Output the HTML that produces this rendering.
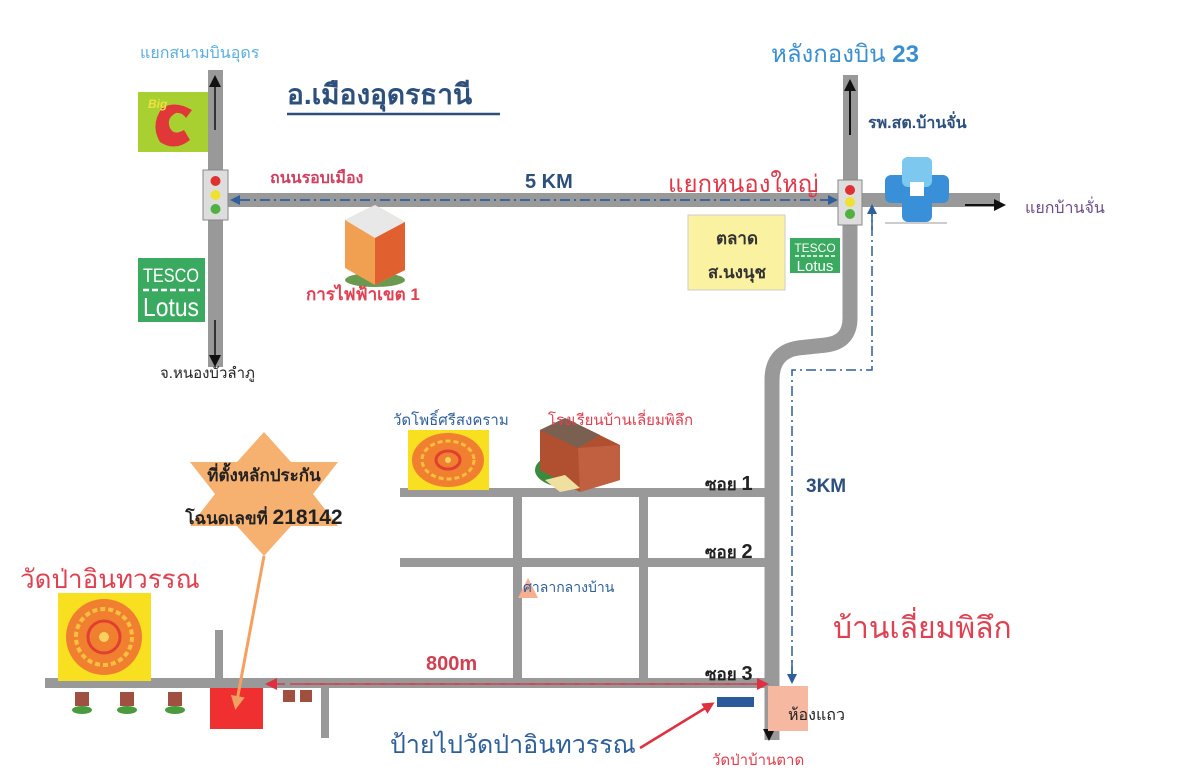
<!DOCTYPE html>
<html><head><meta charset="utf-8"><style>
body{margin:0;background:#fff}
svg{display:block}
text{font-family:"Liberation Sans","Noto Sans CJK SC",sans-serif}
</style></head><body>
<svg width="1200" height="771" viewBox="0 0 1200 771" xmlns="http://www.w3.org/2000/svg">
<defs>
<marker id="ab" markerUnits="userSpaceOnUse" markerWidth="12" markerHeight="12" refX="9" refY="6" orient="auto"><path d="M0,0 L12,6 L0,12 z" fill="#111"/></marker>
<marker id="abl" markerUnits="userSpaceOnUse" markerWidth="10" markerHeight="10" refX="8" refY="5" orient="auto"><path d="M0,0 L10,5 L0,10 z" fill="#2f5f9a"/></marker>
<marker id="ar" markerUnits="userSpaceOnUse" markerWidth="12" markerHeight="12" refX="9" refY="6" orient="auto"><path d="M0,0 L12,6 L0,12 z" fill="#e03040"/></marker>
<marker id="ao" markerUnits="userSpaceOnUse" markerWidth="14" markerHeight="14" refX="10" refY="7" orient="auto"><path d="M0,0 L14,7 L0,14 z" fill="#f0a060"/></marker>
</defs>

<g fill="#999">
<rect x="208" y="70" width="15" height="297"/>
<rect x="228" y="193" width="772" height="14"/>
<rect x="843" y="75" width="15" height="150"/>
<rect x="400" y="488" width="373" height="9"/>
<rect x="400" y="558" width="373" height="9"/>
<rect x="513" y="488" width="9" height="190"/>
<rect x="639" y="488" width="9" height="190"/>
<rect x="45" y="678" width="728" height="10"/>
<rect x="215" y="630" width="8" height="50"/>
<rect x="321" y="683" width="8" height="55"/>
</g>
<path d="M850,220 V318 Q850,342 826,345 L798,348 Q772,352 772,380 V740" fill="none" stroke="#999" stroke-width="15"/>

<line x1="215" y1="130" x2="215" y2="78" stroke="#111" stroke-width="1.5" marker-end="url(#ab)"/>
<line x1="215" y1="320" x2="215" y2="364" stroke="#111" stroke-width="1.5" marker-end="url(#ab)"/>
<line x1="850" y1="135" x2="850" y2="82" stroke="#111" stroke-width="2" marker-end="url(#ab)"/>
<line x1="965" y1="205" x2="1003" y2="205" stroke="#111" stroke-width="2" marker-end="url(#ab)"/>
<line x1="769" y1="705" x2="769" y2="738" stroke="#111" stroke-width="2" marker-end="url(#ab)"/>

<line x1="830" y1="200" x2="232" y2="200" stroke="#2f5f9a" stroke-width="1.5" stroke-dasharray="10,4,2,4" marker-end="url(#abl)"/>
<line x1="240" y1="200" x2="836" y2="200" stroke="#2f5f9a" stroke-width="1.5" stroke-dasharray="10,4,2,4" marker-end="url(#abl)"/>
<polyline points="792,676 792,370 872,370 872,212" fill="none" stroke="#2f5f9a" stroke-width="1.5" stroke-dasharray="10,4,2,4"/>
<line x1="872" y1="230" x2="872" y2="206" stroke="#2f5f9a" stroke-width="1.5" marker-end="url(#abl)"/>
<line x1="792" y1="660" x2="792" y2="682" stroke="#2f5f9a" stroke-width="1.5" marker-end="url(#abl)"/>
<line x1="765" y1="684" x2="268" y2="684" stroke="#d04050" stroke-width="1.5" stroke-dasharray="10,5" marker-end="url(#ar)"/>
<line x1="300" y1="684" x2="766" y2="684" stroke="#d04050" stroke-width="1.5" stroke-dasharray="10,5" marker-end="url(#ar)"/>

<g><rect x="203" y="170" width="25" height="50" fill="#ddd" stroke="#888"/>
<circle cx="215.5" cy="181" r="5" fill="#e03030"/><circle cx="215.5" cy="195" r="5" fill="#f0e030"/><circle cx="215.5" cy="209" r="5" fill="#50b040"/></g>
<g><rect x="838" y="180" width="24" height="45" fill="#ddd" stroke="#888"/>
<circle cx="850" cy="190" r="5" fill="#e03030"/><circle cx="850" cy="202" r="5" fill="#f0e030"/><circle cx="850" cy="214" r="5" fill="#50b040"/></g>

<rect x="138" y="92" width="70" height="60" fill="#a8d030"/>
<path d="M192,110 Q175,100 162,108 Q150,125 160,142 Q175,152 190,140 L184,130 Q174,136 170,128 Q166,118 176,113 Q182,112 186,118 z" fill="#e03838"/>
<text x="148" y="108" font-size="12" font-weight="bold" font-style="italic" fill="#f0e040">Big</text>
<rect x="138" y="258" width="67" height="64" fill="#3aaa60"/>
<text x="171" y="282" font-size="19" fill="#fff" text-anchor="middle" font-family="Liberation Serif" textLength="56" lengthAdjust="spacingAndGlyphs">TESCO</text>
<line x1="143" y1="290" x2="200" y2="290" stroke="#fff" stroke-width="2.5" stroke-dasharray="6,3"/>
<text x="171" y="316" font-size="26" fill="#fff" text-anchor="middle" font-family="Liberation Serif" textLength="56" lengthAdjust="spacingAndGlyphs">Lotus</text>
<rect x="790" y="238" width="50" height="35" fill="#3aaa60"/>
<text x="815" y="252" font-size="12" fill="#fff" text-anchor="middle" font-family="Liberation Serif">TESCO</text>
<line x1="795" y1="256" x2="835" y2="256" stroke="#fff" stroke-width="1.5" stroke-dasharray="4,2"/>
<text x="815" y="271" font-size="15" fill="#fff" text-anchor="middle" font-family="Liberation Serif">Lotus</text>
<rect x="688" y="215" width="97" height="75" fill="#faf2a0" stroke="#ccc"/>
<text x="737" y="244" font-size="17" font-weight="bold" fill="#333" text-anchor="middle">ตลาด</text>
<text x="737" y="278" font-size="17" font-weight="bold" fill="#333" text-anchor="middle">ส.นงนุช</text>
<rect x="902" y="157" width="30" height="65" rx="6" fill="#3a90d8"/>
<rect x="885" y="175" width="64" height="28" rx="6" fill="#3a90d8"/>
<rect x="902" y="157" width="30" height="30" rx="6" fill="#7cc8ee"/>
<rect x="910" y="182" width="14" height="14" fill="#fff"/>
<line x1="885" y1="223" x2="947" y2="223" stroke="#ccc" stroke-width="2"/>

<g>
<ellipse cx="375" cy="280" rx="30" ry="7" fill="#6a9a50"/>
<polygon points="345,220 375,205 405,222 405,270 375,285 345,268" fill="#f0a050"/>
<polygon points="345,220 375,205 405,222 375,238" fill="#e8e8e8"/>
<polygon points="375,238 405,222 405,270 375,285" fill="#e06030"/>
</g>

<g><rect x="58" y="593" width="93" height="88" fill="#f8e020"/>
<circle cx="104" cy="637" r="38" fill="#f08030"/><circle cx="104" cy="637" r="28" fill="none" stroke="#f8c040" stroke-width="4" stroke-dasharray="5,3"/><circle cx="104" cy="637" r="16" fill="none" stroke="#e04030" stroke-width="3"/><circle cx="104" cy="637" r="5" fill="#f8d060"/></g>
<g><rect x="408" y="430" width="81" height="60" fill="#f8e020"/>
<ellipse cx="448" cy="460" rx="36" ry="27" fill="#f08030"/><ellipse cx="448" cy="460" rx="26" ry="19" fill="none" stroke="#f8c040" stroke-width="3" stroke-dasharray="5,3"/><ellipse cx="448" cy="460" rx="12" ry="9" fill="none" stroke="#e04030" stroke-width="3"/><circle cx="448" cy="460" r="3" fill="#f8d060"/></g>

<g>
<ellipse cx="570" cy="470" rx="35" ry="18" fill="#3a8a40"/>
<polygon points="540,430 565,418 620,445 620,480 580,492 540,470" fill="#b05030"/>
<polygon points="540,430 565,418 600,435 578,448" fill="#7a6050"/>
<polygon points="578,448 620,445 620,480 580,492" fill="#c06040"/>
<polygon points="545,480 565,475 580,488 560,492" fill="#f0e0a0"/>
</g>

<polygon points="528,578 518,598 538,598" fill="#f4b090"/>

<g fill="#a05040">
<rect x="75" y="692" width="14" height="14"/><ellipse cx="82" cy="710" rx="10" ry="4" fill="#4a9a40"/>
<rect x="120" y="692" width="14" height="14"/><ellipse cx="127" cy="710" rx="10" ry="4" fill="#4a9a40"/>
<rect x="168" y="692" width="14" height="14"/><ellipse cx="175" cy="710" rx="10" ry="4" fill="#4a9a40"/>
<rect x="283" y="690" width="12" height="12"/><rect x="300" y="690" width="12" height="12"/>
</g>

<rect x="210" y="688" width="53" height="41" fill="#f03030"/>

<polygon points="264,432 291,462 338,462 313,494 338,526 291,526 264,556 237,526 190,526 215,494 190,462 237,462" fill="#f6b070"/>
<line x1="264" y1="556" x2="236" y2="706" stroke="#f6a060" stroke-width="3" marker-end="url(#ao)"/>
<text x="264" y="481" font-size="17" font-weight="bold" fill="#222" text-anchor="middle">ที่ตั้งหลักประกัน</text>
<text x="264" y="524" font-size="17" font-weight="bold" fill="#222" text-anchor="middle">โฉนดเลขที่ <tspan font-size="21">218142</tspan></text>

<rect x="768" y="686" width="40" height="45" fill="#f6b8a0"/>
<rect x="717" y="697" width="37" height="10" fill="#2a5a9a"/>
<line x1="640" y1="748" x2="712" y2="704" stroke="#e03040" stroke-width="2.5" marker-end="url(#ar)"/>

<text x="140" y="58" font-size="16" fill="#5aaee0">แยกสนามบินอุดร</text>
<text x="287" y="104" font-size="28" fill="#2d4f7c" font-weight="bold">อ.เมืองอุดรธานี</text>
<line x1="287" y1="114" x2="500" y2="114" stroke="#2d4f7c" stroke-width="2.5"/>
<text x="771" y="62" font-size="24" fill="#3a8fd0">หลังกองบิน <tspan font-weight="bold">23</tspan></text>
<text x="868" y="128" font-size="16" fill="#2d4f7c" font-weight="bold">รพ.สต.บ้านจั่น</text>
<text x="270" y="183" font-size="16" fill="#d04060" font-weight="bold">ถนนรอบเมือง</text>
<text x="525" y="188" font-size="20" fill="#2d4f7c" font-weight="bold">5 KM</text>
<text x="668" y="192" font-size="24" fill="#e03848">แยกหนองใหญ่</text>
<text x="1025" y="213" font-size="16" fill="#6a4a8a">แยกบ้านจั่น</text>
<text x="306" y="300" font-size="17" fill="#e04050" font-weight="bold">การไฟฟ้าเขต 1</text>
<text x="160" y="378" font-size="15" fill="#222">จ.หนองบัวลำภู</text>
<text x="393" y="425" font-size="15" fill="#2d5f9a">วัดโพธิ์ศรีสงคราม</text>
<text x="548" y="425" font-size="15" fill="#e04050">โรงเรียนบ้านเลี่ยมพิลึก</text>
<text x="705" y="490" font-size="17" fill="#222" font-weight="bold">ซอย <tspan font-size="20">1</tspan></text>
<text x="806" y="492" font-size="19" fill="#2d4f7c" font-weight="bold">3KM</text>
<text x="705" y="558" font-size="17" fill="#222" font-weight="bold">ซอย <tspan font-size="20">2</tspan></text>
<text x="523" y="592" font-size="14" fill="#2d5f9a">ศาลากลางบ้าน</text>
<text x="20" y="588" font-size="26" fill="#e04050">วัดป่าอินทวรรณ</text>
<text x="833" y="638" font-size="30" fill="#e04050">บ้านเลี่ยมพิลึก</text>
<text x="426" y="670" font-size="20" fill="#d04050" font-weight="bold">800m</text>
<text x="705" y="680" font-size="17" fill="#222" font-weight="bold">ซอย <tspan font-size="20">3</tspan></text>
<text x="788" y="720" font-size="16" fill="#222">ห้องแถว</text>
<text x="390" y="753" font-size="25" fill="#2d5f9a">ป้ายไปวัดป่าอินทวรรณ</text>
<text x="712" y="765" font-size="15" fill="#e04050">วัดป่าบ้านตาด</text>
</svg>
</body></html>
